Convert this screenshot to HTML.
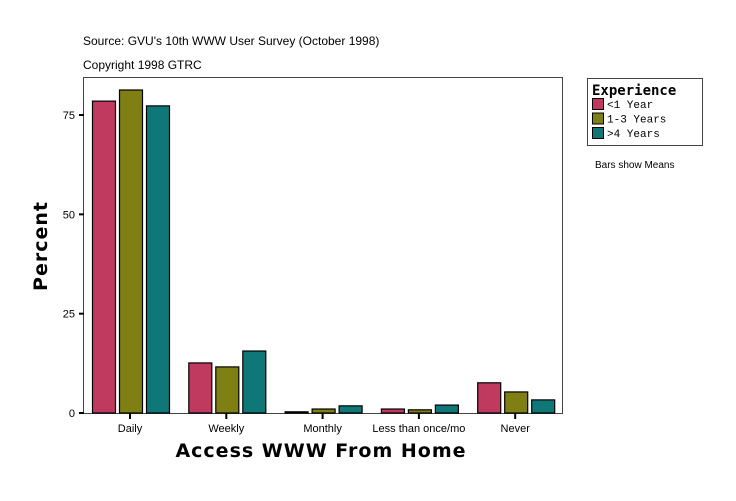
<!DOCTYPE html>
<html><head><meta charset="utf-8"><style>
body{margin:0;background:#fff;width:736px;height:496px;overflow:hidden}
svg text{font-family:"Liberation Sans",sans-serif}
</style></head><body>
<svg id="chart" width="736" height="496">
<text x="83" y="45" font-size="12">Source: GVU's 10th WWW User Survey (October 1998)</text>
<text x="83" y="69" font-size="12">Copyright 1998 GTRC</text>
<rect x="83.5" y="77.5" width="479" height="336" fill="#fff" stroke="#444"/>
<g id="bars"></g><g id="axes"></g>
<text x="0" y="0" transform="translate(47,246) rotate(-90)" text-anchor="middle" font-size="19" font-weight="bold" style="font-family:'DejaVu Sans',sans-serif;letter-spacing:1px">Percent</text>
<text x="321" y="457" text-anchor="middle" font-size="19" font-weight="bold" style="font-family:'DejaVu Sans',sans-serif;letter-spacing:1px">Access WWW From Home</text>
<g>
<rect x="587.5" y="78.5" width="115" height="67" fill="#fff" stroke="#444"/>
<text x="592" y="95" font-size="14" font-weight="bold" style="font-family:'DejaVu Sans Mono',monospace">Experience</text>
<g id="legend-items"></g>
</g>
<text x="595" y="168" font-size="10">Bars show Means</text>
</svg>
<script>
const categories=["Daily","Weekly","Monthly","Less than once/mo","Never"];
const seriesNames=["<1 Year","1-3 Years",">4 Years"];
const lessThan1Year=[78.5,12.6,0.3,1.0,7.6];
const oneToThreeYears=[81.3,11.6,1.0,0.8,5.3];
const overFourYears=[77.3,15.6,1.8,2.0,3.3];
const yTicks=[0,25,50,75];
const colors=["#c0395f","#7f7f13","#0f7778"];
const series=[lessThan1Year,oneToThreeYears,overFourYears];
const NS="http://www.w3.org/2000/svg";
const y=v=>413-v*3.973;
const xc=i=>130+i*96.3;
function mk(tag,attrs,parent){const e=document.createElementNS(NS,tag);for(const k in attrs)e.setAttribute(k,attrs[k]);parent.appendChild(e);return e;}
const bars=document.getElementById('bars'),axes=document.getElementById('axes');
series.forEach((s,si)=>s.forEach((v,ci)=>{
 const r=mk('rect',{x:xc(ci)-37.5+si*27,y:y(v),width:23,height:413-y(v),fill:colors[si],stroke:'#000','stroke-width':1.2},bars);
 
 
}));
yTicks.forEach(t=>{
 const l=mk('line',{x1:79,x2:84,y1:y(t),y2:y(t),stroke:'#000','stroke-width':2},axes);
 
 
 const tx=mk('text',{x:75,y:y(t)+4,'text-anchor':'end','font-size':11},axes);tx.textContent=t;
 
 
});
categories.forEach((c,i)=>{
 const l=mk('line',{x1:xc(i),x2:xc(i),y1:413,y2:419,stroke:'#000','stroke-width':2},axes);
 
 
 const tx=mk('text',{x:xc(i),y:432,'text-anchor':'middle','font-size':11},axes);tx.textContent=c;
 
 
});
const li=document.getElementById('legend-items');
seriesNames.forEach((n,i)=>{
 const r=mk('rect',{x:592.5,y:98.5+i*14.5,width:11,height:11,fill:colors[i],stroke:'#000'},li);
 
 
 const t=mk('text',{x:607,y:108+i*14.5,'font-size':11,style:"font-family:'Liberation Mono',monospace"},li);t.textContent=n;
 
 
});
</script>
</body></html>
